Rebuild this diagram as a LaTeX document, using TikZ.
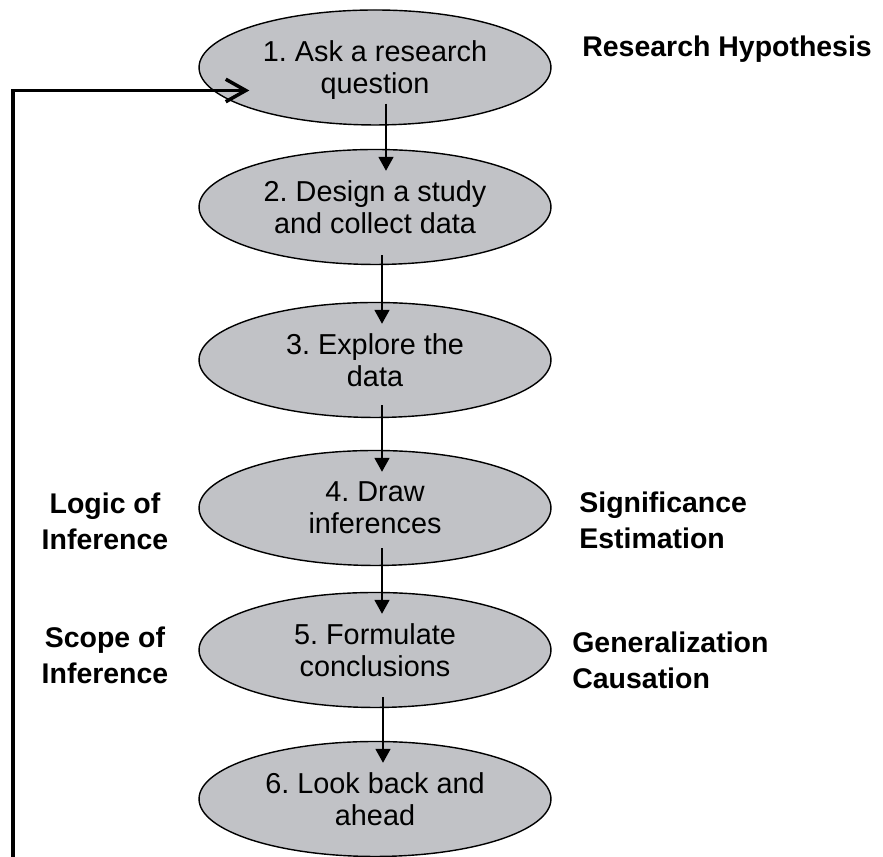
\documentclass[tikz,border=0pt]{standalone}
\usepackage{fontspec}
\setmainfont{Liberation Sans}
\usetikzlibrary{shapes.geometric,arrows.meta}
\definecolor{ovalgray}{RGB}{193,194,198}
\frenchspacing

\begin{document}
\begin{tikzpicture}[x=0.02cm,y=0.02cm,
        stage/.style={ellipse,draw=black,line width=0.8pt,fill=ovalgray,
          minimum width=7.04cm,minimum height=2.3cm,inner sep=0pt,align=center,
          text depth=0pt,font=\fontsize{16.4}{18.3}\selectfont},
        sidelabel/.style={inner sep=0pt,font=\fontsize{16.2}{20.4}\selectfont\bfseries},
        flow/.style={line width=1pt,-{Triangle[length=0.28cm,width=0.3cm]}}]
        \useasboundingbox (0,0) rectangle (883,857);

        % stages
        \node[stage] (e1) at (375,789.5) {1. Ask a research\\question};
        \node[stage] (e2) at (375,650) {2. Design a study\\and collect data};
        \node[stage] (e3) at (375,497) {3. Explore the\\data};
        \node[stage] (e4) at (375,349) {4. Draw\\inferences};
        \node[stage] (e5) at (375,207) {5. Formulate\\conclusions};
        \node[stage] (e6) at (375,58) {6. Look back and\\ahead};

        % arrows between stages
        \foreach \a/\b/\dx/\dy in {e1/e2/11/22,e2/e3/7/10,e3/e4/7/13,e4/e5/7/18,e5/e6/8/11}
          \draw[flow] ([shift={(\dx,\dy)}]\a.south) -- ([shift={(\dx,-22)}]\b.north);

        % loop back to the start
        \coordinate (loopstart) at (13,0);
        \draw[line width=2pt,-{Straight Barb[length=0.4cm,width=0.45cm]}]
          (loopstart) |- ([shift={(51,-23)}]e1.west);

        % side labels
        \node[sidelabel,anchor=base west] (hyp) at (582,800) {Research Hypothesis};
        \node[sidelabel,align=center] (logic) at (105,336) {Logic of\\Inference};
        \node[sidelabel,align=center] (scope) at (105,202) {Scope of\\Inference};
        \node[sidelabel,align=left,anchor=west] (signif) at (579,337) {Significance\\Estimation};
        \node[sidelabel,align=left,anchor=west] (general) at (572,197) {Generalization\\Causation};
    \end{tikzpicture}
\end{document}
